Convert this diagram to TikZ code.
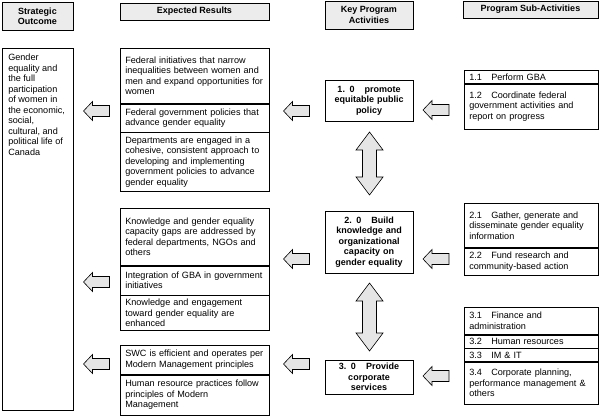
\documentclass[tikz,border=0pt]{standalone}
\usepackage{fontspec}
\setmainfont{Liberation Sans}
\usetikzlibrary{shadows}
\newcommand\blockleft[1]{\draw[blk] ([xshift=-13pt]#1) -- ++(9,-9.5) -- ++(0,4) -- ++(17,0) -- ++(0,11) -- ++(-17,0) -- ++(0,4) -- cycle;}
\newcommand\blockupdown[2]{\draw[blk] ([yshift=#2/2]#1) -- ++(13.5,18) -- ++(-6.5,0) -- ++(0,#2-36) -- ++(6.5,0) -- ++(-13.5,18) -- ++(-13.5,-18) -- ++(6.5,0) -- ++(0,36-#2) -- ++(-6.5,0) -- cycle;}
\begin{document}
\begin{tikzpicture}[x=1pt,y=-1pt, line width=0.6pt,
  txt/.style={font=\fontsize{9.1}{10.5}\selectfont},
  hdr/.style={draw, fill=gray!15, font=\fontsize{9}{10.4}\selectfont\bfseries, align=center, inner sep=0pt,
    drop shadow={shadow xshift=1.3pt,shadow yshift=-1.3pt,fill=gray!80,opacity=1}},
  cell/.style={draw, txt, align=left, inner xsep=5pt, inner ysep=0pt, anchor=north west},
  ercell/.style={cell, text width=139pt},
  subcell/.style={cell, text width=124pt},
  kpa/.style={draw, font=\fontsize{9}{10.4}\selectfont\bfseries, align=center, text width=84pt, inner xsep=2pt, inner ysep=0pt},
  blk/.style={draw, fill=gray!20, line join=miter}]
\useasboundingbox (0,0) rectangle (600,417);
% headers
\node[hdr, minimum width=71pt, minimum height=28pt] (h1) at (37.5,16) {Strategic\\Outcome};
\node[hdr, minimum width=149pt, minimum height=17pt] (h2) at (194.5,11.5) {Expected Results};
\node[hdr, minimum width=88pt, minimum height=28pt] (h3) at (369,15) {Key Program\\Activities};
\node[hdr, minimum width=135pt, minimum height=17pt] (h4) at (530.5,9.5) {Program Sub-Activities};
% strategic outcome
\node[draw, minimum width=71pt, minimum height=362pt, anchor=north west, inner sep=0pt] (so) at (2,48) {};
\node[txt, anchor=north west, align=left, inner sep=0pt] (sotext) at ([xshift=6pt,yshift=-6pt]so.north west) {Gender\\equality and\\the full\\participation\\of women in\\the economic,\\social,\\cultural, and\\political life of\\Canada};
% expected results
\node[ercell, minimum height=55pt] (er1a) at (120,48) {Federal initiatives that narrow\\inequalities between women and\\men and expand opportunities for\\women};
\node[ercell, minimum height=28pt] (er1b) at (er1a.south west) {Federal government policies that\\advance gender equality};
\node[ercell, minimum height=59pt] (er1c) at (er1b.south west) {Departments are engaged in a\\cohesive, consistent approach to\\developing and implementing\\government policies to advance\\gender equality};
\node[ercell, minimum height=57pt] (er2a) at (120,208) {Knowledge and gender equality\\capacity gaps are addressed by\\federal departments, NGOs and\\others};
\node[ercell, minimum height=29pt] (er2b) at (er2a.south west) {Integration of GBA in government\\initiatives};
\node[ercell, minimum height=35pt] (er2c) at (er2b.south west) {Knowledge and engagement\\toward gender equality are\\enhanced};
\node[ercell, minimum height=29pt] (er3a) at (120,345) {SWC is efficient and operates per\\Modern Management principles};
\node[ercell, minimum height=40pt] (er3b) at (er3a.south west) {Human resource practices follow\\principles of Modern\\Management};
% key program activities
\node[kpa, minimum height=41pt] (k1) at (369,100.5) {1. 0\hspace{10pt}promote\\equitable public\\policy};
\node[kpa, minimum height=62pt] (k2) at (369,242) {2. 0\hspace{10pt}Build\\knowledge and\\organizational\\capacity on\\gender equality};
\node[kpa, minimum height=34pt] (k3) at (369,377) {3. 0\hspace{10pt}Provide\\corporate\\services};
% sub-activities
\node[subcell, minimum height=13pt] (s1a) at (464,70) {\makebox[22pt][l]{1.1}Perform GBA};
\node[subcell, minimum height=45pt] (s1b) at (s1a.south west) {\makebox[22pt][l]{1.2}Coordinate federal\\government activities and\\report on progress};
\node[subcell, minimum height=44pt] (s2a) at (464,203) {\makebox[22pt][l]{2.1}Gather, generate and\\disseminate gender equality\\information};
\node[subcell, minimum height=27pt] (s2b) at (s2a.south west) {\makebox[22pt][l]{2.2}Fund research and\\community-based action};
\node[subcell, minimum height=27pt] (s3a) at (464,307) {\makebox[22pt][l]{3.1}Finance and\\administration};
\node[subcell, minimum height=13pt] (s3b) at (s3a.south west) {\makebox[22pt][l]{3.2}Human resources};
\node[subcell, minimum height=13pt] (s3c) at (s3b.south west) {\makebox[22pt][l]{3.3}IM \& IT};
\node[subcell, minimum height=42pt] (s3d) at (s3c.south west) {\makebox[22pt][l]{3.4}Corporate planning,\\performance management \&\\others};
% block arrows
\coordinate (a1) at (436,110);
\coordinate (a2) at (436,259);
\coordinate (a3) at (436,376);
\coordinate (b1) at (296.5,111);
\coordinate (b2) at (296.5,259);
\coordinate (b3) at (296.5,364);
\coordinate (c1) at (96.5,111);
\coordinate (c2) at (96.5,282);
\coordinate (c3) at (96.5,364);
\coordinate (d1) at (369.5,163.5);
\coordinate (d2) at (369.5,317);
\blockleft{a1}\blockleft{a2}\blockleft{a3}
\blockleft{b1}\blockleft{b2}\blockleft{b3}
\blockleft{c1}\blockleft{c2}\blockleft{c3}
\blockupdown{d1}{63}
\blockupdown{d2}{68}
\end{tikzpicture}
\end{document}
